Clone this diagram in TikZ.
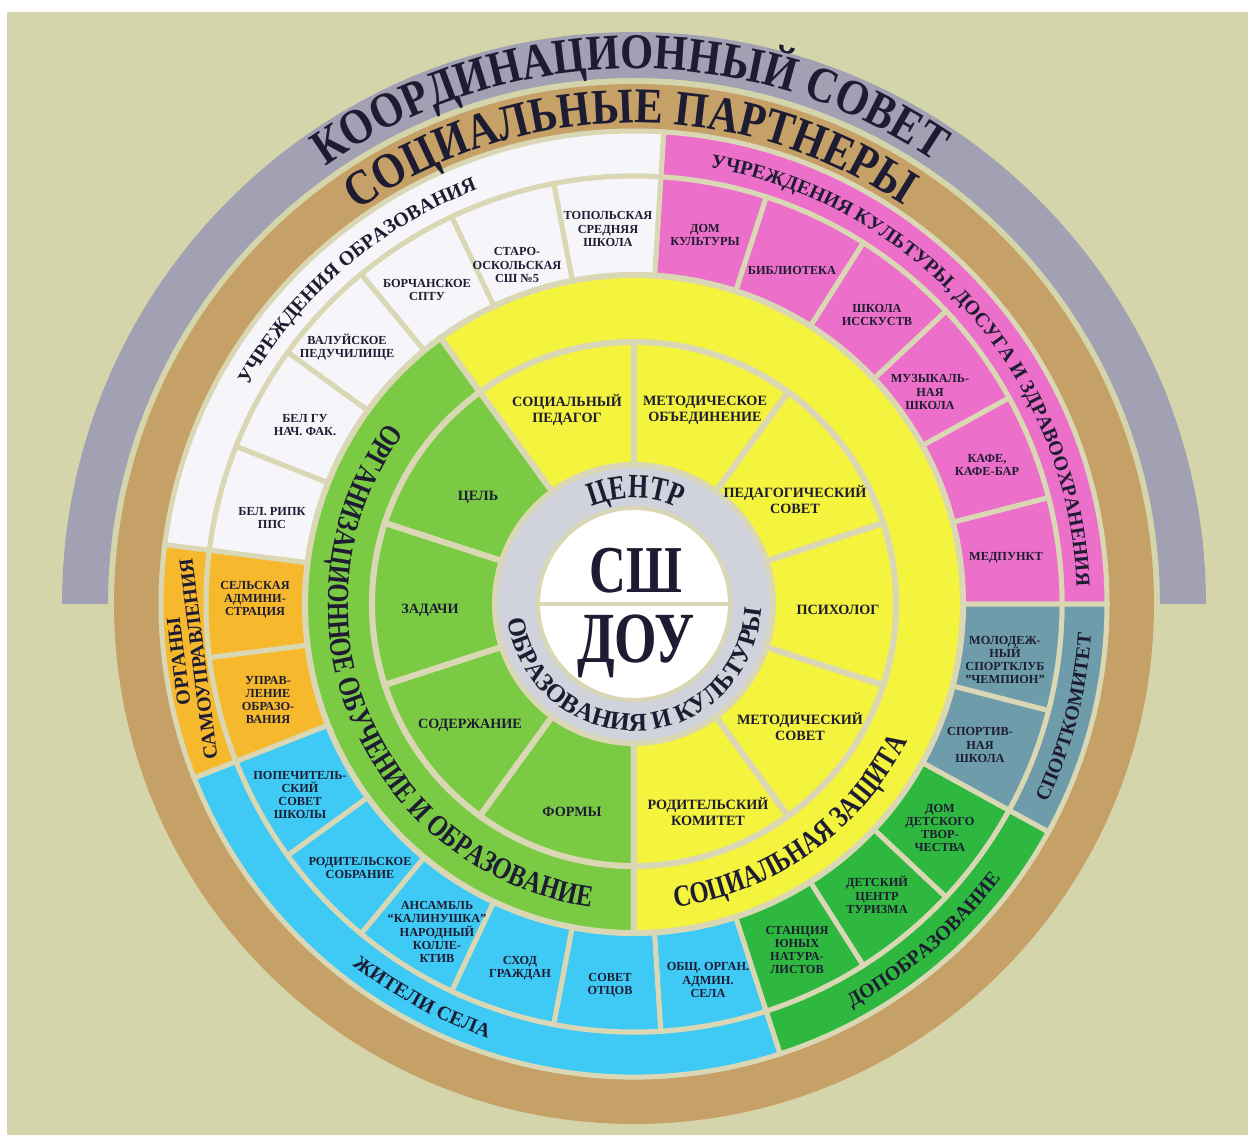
\documentclass[tikz,border=0pt]{standalone}
\usepackage{fontspec}
\setmainfont{Liberation Serif}
\newfontfamily\hfont[FakeStretch=0.85]{Liberation Serif}
\newfontfamily\bandfont[FakeStretch=0.8]{Liberation Serif}
\newfontfamily\ctrfont[FakeStretch=0.76]{Liberation Serif}
\usetikzlibrary{decorations.text}
\definecolor{panel}{HTML}{D5D5AB}
\definecolor{gapc}{HTML}{DAD7B4}
\definecolor{arcgray}{HTML}{A2A1B3}
\definecolor{tanc}{HTML}{C6A167}
\definecolor{wcell}{HTML}{F6F6FA}
\definecolor{pinkc}{HTML}{EC70C9}
\definecolor{orangec}{HTML}{F6B82C}
\definecolor{cyanc}{HTML}{3FCAF6}
\definecolor{dgreen}{HTML}{2FB840}
\definecolor{steel}{HTML}{6F9CAB}
\definecolor{lgreen}{HTML}{7BCA44}
\definecolor{yel}{HTML}{F4F33D}
\definecolor{ringc}{HTML}{D0D2DC}
\definecolor{ink}{HTML}{1D1C32}
\newcommand\annsec[5]{\path[#1] (#2:#4) arc[start angle=#2,end angle=#3,radius=#4] -- (#3:#5) arc[start angle=#3,end angle=#2,radius=#5] -- cycle;}
\newcommand\arctext[5]{\path[decorate,decoration={text along path,text={|#1|#5},text align=center,text color=ink}] (#2:#4) arc[start angle=#2,end angle=#3,radius=#4];}
\newcommand\fHead{\hfont\bfseries\fontsize{50}{55}\selectfont}
\newcommand\fBand{\bandfont\bfseries\fontsize{30.5}{34}\selectfont}
\newcommand\fLab{\bfseries\fontsize{20}{22}\selectfont}
\newcommand\fCtr{\ctrfont\bfseries\fontsize{34}{36}\selectfont}
\newcommand\fCtrB{\bfseries\fontsize{25.5}{28}\selectfont}
\begin{document}
\begin{tikzpicture}[x=1pt,y=1pt,
  cellst/.style={fill=#1,draw=gapc,line width=5pt},
  ringst/.style={fill=#1,draw=gapc,line width=6pt},
  celltxt/.style={font=\bfseries\fontsize{12.3}{13.2}\selectfont,text=ink,align=center,inner sep=0pt},
  secttxt/.style={font=\bfseries\fontsize{14.2}{16}\selectfont,text=ink,align=center,inner sep=0pt}]
\useasboundingbox (-634,-534) rectangle (614,604);
\fill[white] (-634,-534) rectangle (614,604);
\fill[panel] (-627,-531) rectangle (614,592);
% coordination arc and brown ring
\annsec{fill=arcgray}{0}{180}{526}{572}
\fill[tanc,even odd rule] (0,0) circle[radius=520] (0,0) circle[radius=474];
% label band
\annsec{cellst=pinkc}{0}{86.4}{428}{473}
\annsec{cellst=wcell}{86.4}{172.8}{428}{473}
\annsec{cellst=orangec}{172.8}{201.6}{428}{473}
\annsec{cellst=cyanc}{201.6}{288}{428}{473}
\annsec{cellst=dgreen}{288}{331.2}{428}{473}
\annsec{cellst=steel}{331.2}{360}{428}{473}
% partner cells
\foreach \i/\c in {0/pinkc,1/pinkc,2/pinkc,3/pinkc,4/pinkc,5/pinkc,6/wcell,7/wcell,8/wcell,9/wcell,10/wcell,11/wcell,12/orangec,13/orangec,14/cyanc,15/cyanc,16/cyanc,17/cyanc,18/cyanc,19/cyanc,20/dgreen,21/dgreen,22/dgreen,23/steel,24/steel}{
  \pgfmathsetmacro\sa{\i*14.4}\pgfmathsetmacro\sb{\sa+14.4}
  \annsec{cellst=\c}{\sa}{\sb}{329}{428}}
% outer band
\annsec{ringst=lgreen}{126}{270}{262}{329}
\annsec{ringst=yel}{-90}{126}{262}{329}
% inner sectors
\foreach \s/\c in {126/lgreen,162/lgreen,198/lgreen,234/lgreen,-90/yel,-54/yel,-18/yel,18/yel,54/yel,90/yel}{
  \pgfmathsetmacro\se{\s+36}
  \annsec{ringst=\c}{\s}{\se}{139}{262}}
% centre
\path[fill=ringc,draw=gapc,line width=5pt] (0,0) circle[radius=139];
\path[fill=white,draw=gapc,line width=4pt] (0,0) circle[radius=96];
\draw[gapc,line width=4pt] (-96,0) -- (96,0);
\node[font=\ctrfont\bfseries\fontsize{67}{70}\selectfont,text=ink,anchor=base,inner sep=0pt] (sh) at (2,12) {СШ};
\node[font=\ctrfont\bfseries\fontsize{72}{75}\selectfont,text=ink,anchor=base,inner sep=0pt] (dou) at (2,-58) {ДОУ};
% curved texts
\arctext{\fHead}{150}{31}{535}{КООРДИНАЦИОННЫЙ СОВЕТ}
\arctext{\fHead}{150}{31}{481}{СОЦИАЛЬНЫЕ ПАРТНЕРЫ}
\arctext{\fLab}{170}{91.2}{443}{УЧРЕЖДЕНИЯ ОБРАЗОВАНИЯ}
\arctext{\fLab}{84}{-1.6}{443}{УЧРЕЖДЕНИЯ КУЛЬТУРЫ, ДОСУГА И ЗДРАВООХРАНЕНИЯ}
\arctext{\fLab}{205}{278.4}{458}{ЖИТЕЛИ СЕЛА}
\arctext{\fLab}{-71}{-27.4}{458}{ДОПОБРАЗОВАНИЕ}
\arctext{\fLab}{-29}{-0.4}{458}{СПОРТКОМИТЕТ}
\arctext{\fBand}{131}{274.5}{306}{ОРГАНИЗАЦИОННОЕ ОБУЧЕНИЕ И ОБРАЗОВАНИЕ}
\arctext{\fBand}{-89}{-20}{306}{СОЦИАЛЬНАЯ ЗАЩИТА}
\arctext{\fCtr}{150}{28}{106}{ЦЕНТР}
\arctext{\fCtrB}{176}{369}{127}{ОБРАЗОВАНИЯ И КУЛЬТУРЫ}
\node[rotate=97.2,font=\bfseries\fontsize{20}{20}\selectfont,text=ink,align=center,inner sep=0pt] (orgl) at (187.2:449) {ОРГАНЫ\\САМОУПРАВЛЕНИЯ};
% inner sector labels
\node[secttxt] (s1) at (-156,107) {ЦЕЛЬ};
\node[secttxt] (s2) at (-204,-6) {ЗАДАЧИ};
\node[secttxt] (s3) at (-164,-121) {СОДЕРЖАНИЕ};
\node[secttxt] (s4) at (-62,-208) {ФОРМЫ};
\node[secttxt] (s5) at (-67,194) {СОЦИАЛЬНЫЙ\\ПЕДАГОГ};
\node[secttxt] (s6) at (71,194) {МЕТОДИЧЕСКОЕ\\ОБЪЕДИНЕНИЕ};
\node[secttxt] (s7) at (161,104) {ПЕДАГОГИЧЕСКИЙ\\СОВЕТ};
\node[secttxt] (s8) at (204,-6) {ПСИХОЛОГ};
\node[secttxt] (s9) at (166,-123) {МЕТОДИЧЕСКИЙ\\СОВЕТ};
\node[secttxt] (s10) at (74,-208) {РОДИТЕЛЬСКИЙ\\КОМИТЕТ};
% cell labels
\node[celltxt] (p1) at (71,369) {ДОМ\\КУЛЬТУРЫ};
\node[celltxt] (p2) at (158,334) {БИБЛИОТЕКА};
\node[celltxt] (p3) at (243,289) {ШКОЛА\\ИССКУСТВ};
\node[celltxt] (p4) at (296,212) {МУЗЫКАЛЬ-\\НАЯ\\ШКОЛА};
\node[celltxt] (p5) at (353,139) {КАФЕ,\\КАФЕ-БАР};
\node[celltxt] (p6) at (372,46) {МЕДПУНКТ};
\node[celltxt] (w1) at (-26,375) {ТОПОЛЬСКАЯ\\СРЕДНЯЯ\\ШКОЛА};
\node[celltxt] (w2) at (-117,339) {СТАРО-\\ОСКОЛЬСКАЯ\\СШ №5};
\node[celltxt] (w3) at (-207,314) {БОРЧАНСКОЕ\\СПТУ};
\node[celltxt] (w4) at (-287,257) {ВАЛУЙСКОЕ\\ПЕДУЧИЛИЩЕ};
\node[celltxt] (w5) at (-329,179) {БЕЛ ГУ\\НАЧ. ФАК.};
\node[celltxt] (w6) at (-362,86) {БЕЛ. РИПК\\ППС};
\node[celltxt] (o1) at (-379,4) {СЕЛЬСКАЯ\\АДМИНИ-\\СТРАЦИЯ};
\node[celltxt] (o2) at (-366,-96) {УПРАВ-\\ЛЕНИЕ\\ОБРАЗО-\\ВАНИЯ};
\node[celltxt] (c1) at (-334,-191) {ПОПЕЧИТЕЛЬ-\\СКИЙ\\СОВЕТ\\ШКОЛЫ};
\node[celltxt] (c2) at (-274,-264) {РОДИТЕЛЬСКОЕ\\СОБРАНИЕ};
\node[celltxt] (c3) at (-197,-328) {АНСАМБЛЬ\\“КАЛИНУШКА”\\НАРОДНЫЙ\\КОЛЛЕ-\\КТИВ};
\node[celltxt] (c4) at (-114,-364) {СХОД\\ГРАЖДАН};
\node[celltxt] (c5) at (-24,-381) {СОВЕТ\\ОТЦОВ};
\node[celltxt] (c6) at (74,-376) {ОБЩ. ОРГАН.\\АДМИН.\\СЕЛА};
\node[celltxt] (g1) at (163,-346) {СТАНЦИЯ\\ЮНЫХ\\НАТУРА-\\ЛИСТОВ};
\node[celltxt] (g2) at (243,-291) {ДЕТСКИЙ\\ЦЕНТР\\ТУРИЗМА};
\node[celltxt] (g3) at (306,-224) {ДОМ\\ДЕТСКОГО\\ТВОР-\\ЧЕСТВА};
\node[celltxt] (b1) at (346,-141) {СПОРТИВ-\\НАЯ\\ШКОЛА};
\node[celltxt] (b2) at (371,-56) {МОЛОДЕЖ-\\НЫЙ\\СПОРТКЛУБ\\"ЧЕМПИОН"};
\end{tikzpicture}
\end{document}
